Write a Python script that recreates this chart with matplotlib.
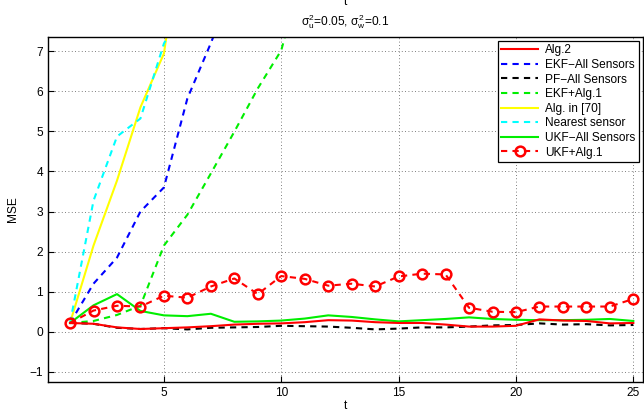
import numpy as np
import matplotlib
matplotlib.use('Agg')
import matplotlib.pyplot as plt

plt.rcParams['font.family'] = ['Liberation Sans', 'DejaVu Sans']
plt.rcParams['mathtext.fontset'] = 'custom'
plt.rcParams['mathtext.rm'] = 'Liberation Sans'
plt.rcParams['mathtext.it'] = 'Liberation Sans'

# ---- data ----
t = np.arange(1, 26)

alg2 = [0.22, 0.20, 0.11, 0.07, 0.09, 0.11, 0.14, 0.18, 0.20, 0.21,
        0.24, 0.29, 0.28, 0.24, 0.22, 0.22, 0.18, 0.13, 0.13, 0.15,
        0.31, 0.28, 0.27, 0.21, 0.22]
pf_all = [0.22, 0.20, 0.10, 0.07, 0.09, 0.06, 0.10, 0.11, 0.12, 0.15,
          0.14, 0.13, 0.10, 0.06, 0.08, 0.11, 0.11, 0.13, 0.16, 0.17,
          0.21, 0.18, 0.19, 0.16, 0.17]
ukf_all = [0.22, 0.66, 0.94, 0.52, 0.41, 0.39, 0.45, 0.25, 0.26, 0.28,
           0.33, 0.41, 0.37, 0.31, 0.26, 0.29, 0.32, 0.36, 0.32, 0.30,
           0.29, 0.29, 0.30, 0.32, 0.27]
ukf_alg1 = [0.22, 0.53, 0.65, 0.63, 0.90, 0.85, 1.13, 1.33, 0.94, 1.39,
            1.32, 1.15, 1.20, 1.13, 1.38, 1.45, 1.43, 0.60, 0.50, 0.49,
            0.63, 0.63, 0.63, 0.63, 0.82]

# curves that leave the top of the plot (last value is past the edge)
ekf_all = [0.22, 1.20, 1.85, 3.00, 3.60, 5.82, 7.20, 8.70]
ekf_alg1 = [0.22, 0.27, 0.42, 0.65, 2.15, 2.92, 3.95, 4.99, 6.07, 7.02, 9.20]
alg70 = [0.22, 2.15, 3.77, 5.60, 6.94, 10.90]
nearest = [0.22, 3.27, 4.87, 5.32, 7.19, 8.20]

FS = 8.6

fig = plt.figure(figsize=(6.44, 4.12), dpi=100)
ax = fig.add_axes([0.0745, 0.073, 0.9235, 0.837])

lw = 1.5
dash = (3, 2.5)
ax.plot(t, alg2, color='red', lw=lw, label='Alg.2', zorder=5)
ax.plot(t[:len(ekf_all)], ekf_all, color='blue', lw=lw, dashes=dash,
        label='EKF\u2212All Sensors')
ax.plot(t, pf_all, color='black', lw=lw, dashes=dash,
        label='PF\u2212All Sensors', zorder=4)
ax.plot(t[:len(ekf_alg1)], ekf_alg1, color='#00ee00', lw=lw, dashes=dash,
        label='EKF+Alg.1')
ax.plot(t[:len(alg70)], alg70, color='yellow', lw=lw, label='Alg. in [70]')
ax.plot(t[:len(nearest)], nearest, color='cyan', lw=lw, dashes=dash,
        label='Nearest sensor')
ax.plot(t, ukf_all, color='#00ee00', lw=lw, label='UKF\u2212All Sensors', zorder=3)
ax.plot(t, ukf_alg1, color='red', lw=lw, dashes=dash, marker='o', ms=7,
        mfc='none', mew=1.8, label='UKF+Alg.1', zorder=6)

ax.set_xlim(0.06, 25.4)
ax.set_ylim(-1.25, 7.35)
ax.set_xticks([5, 10, 15, 20, 25])
ax.set_yticks(range(-1, 8))
ax.tick_params(direction='in', labelsize=FS, length=4, width=0.8)
ax.grid(True, color='#555555', linestyle=(0, (1, 3)), lw=0.6)
for s in ax.spines.values():
    s.set_linewidth(1.0)

ax.set_xlabel('t', fontsize=FS, labelpad=1)
ax.set_ylabel('MSE', fontsize=FS, labelpad=8)
ax.set_title(r'$\sigma_u^2$=0.05, $\sigma_w^2$=0.1', fontsize=FS, pad=8)
fig.text(0.536, 0.995, 't', fontsize=FS, ha='center', va='center')

leg = ax.legend(loc='upper right', fontsize=FS, handlelength=3.1,
                borderaxespad=0.3, labelspacing=0.22, fancybox=False,
                edgecolor='black', framealpha=1, borderpad=0.3,
                handletextpad=0.6)
leg.get_frame().set_linewidth(0.9)

fig.savefig('out.png', dpi=100)
